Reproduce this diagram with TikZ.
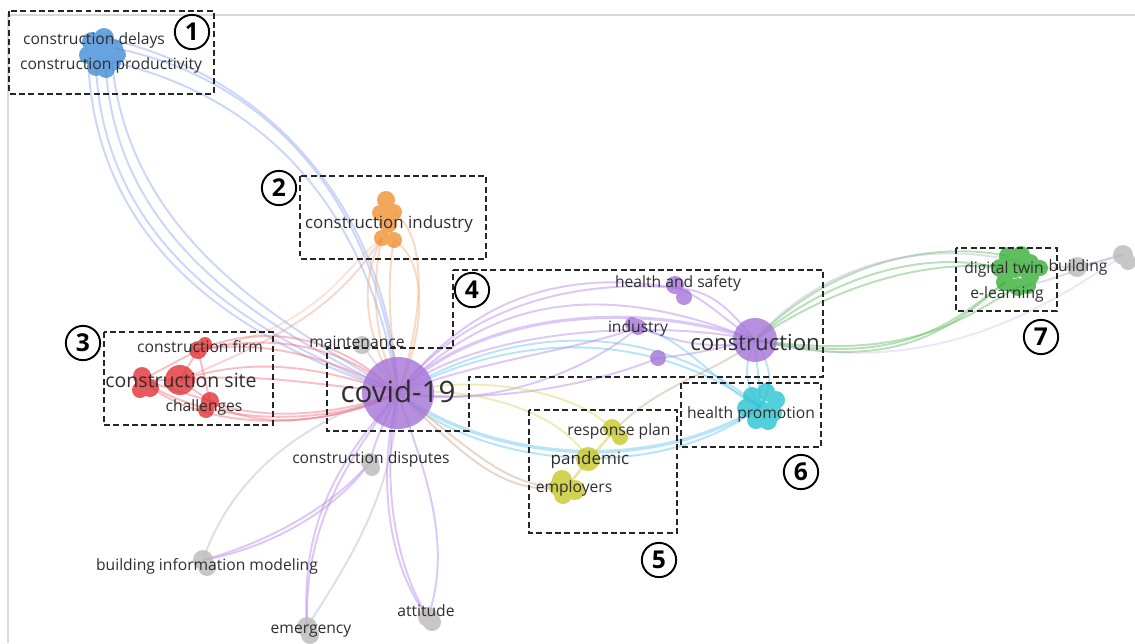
\documentclass[tikz,border=0pt]{standalone}
\usepackage{fontspec}
\setmainfont{Open Sans}
\usepackage{tikz}

\definecolor{bblue}{RGB}{65,140,215}
\definecolor{borange}{RGB}{240,145,50}
\definecolor{bred}{RGB}{225,50,55}
\definecolor{bpurple}{RGB}{165,115,215}
\definecolor{bcyan}{RGB}{40,195,210}
\definecolor{byellow}{RGB}{200,200,40}
\definecolor{bgreen}{RGB}{55,175,55}
\definecolor{bgray}{RGB}{185,185,185}
\definecolor{bluel}{RGB}{140,165,240}
\definecolor{orl}{RGB}{245,170,120}
\definecolor{redl}{RGB}{240,110,125}
\definecolor{purl}{RGB}{180,130,235}
\definecolor{cyl}{RGB}{100,195,240}
\definecolor{yell}{RGB}{215,210,100}
\definecolor{brnl}{RGB}{200,165,135}
\definecolor{grnl}{RGB}{100,185,100}
\definecolor{gryl}{RGB}{185,180,210}

\tikzset{
	lnk/.style={line width=1.1pt, draw opacity=0.45},
	bub/.style={fill=#1, fill opacity=0.8},
	kw/.style={font=\fontsize{8.9}{10}\selectfont, text=black!82, inner sep=0pt},
	box/.style={draw=black!85, line width=0.9pt, dash pattern=on 3.4pt off 1.9pt},
	num/.style={shape=circle, draw=black, line width=1.1pt, minimum size=19.5pt, inner sep=0pt, font=\fontsize{14}{14}\selectfont\bfseries}
}

\begin{document}
\begin{tikzpicture}[x=0.02cm, y=-0.02cm]
	\useasboundingbox (0,0) rectangle (1135,643);
	\draw[black!15, line width=0.6pt] (8,643) -- (8,15) -- (1135,15);
	
	% cluster positions
	\coordinate (b2) at (104,38);
	\coordinate (b3) at (114,48);
	\coordinate (b4) at (88,58);
	\coordinate (b6) at (112,62);
	\coordinate (b7) at (96,67);
	\coordinate (b8) at (106,69);
	\coordinate (o2) at (394,212);
	\coordinate (o5) at (382,238);
	\coordinate (o6) at (394,240);
	\coordinate (cs) at (180,380);
	\coordinate (cs2) at (142,380);
	\coordinate (cf) at (198,350);
	\coordinate (ch) at (210,401);
	\coordinate (mt) at (362,345);
	\coordinate (cv) at (398,393);
	\coordinate (hs) at (677,288);
	\coordinate (ind) at (638,327);
	\coordinate (pu) at (658,358);
	\coordinate (con) at (755,340);
	\coordinate (hp) at (760,407);
	\coordinate (rp) at (614,431);
	\coordinate (pd) at (588,459);
	\coordinate (emp) at (566,488);
	\coordinate (g1) at (1008,256);
	\coordinate (g4) at (1000,268);
	\coordinate (g7) at (1005,282);
	\coordinate (g8) at (1018,287);
	\coordinate (g10) at (1040,268);
	\coordinate (bd) at (1077,267);
	\coordinate (bd2) at (1123,255);
	\coordinate (cdp) at (370,462);
	\coordinate (bim) at (203,560);
	\coordinate (emg) at (307,627);
	\coordinate (att) at (428,617);
	
	% links
	\draw[lnk, bluel] (b7) .. controls (105,255) and (265,340) .. (cv);
	\draw[lnk, bluel] (b8) .. controls (118,250) and (278,333) .. (cv);
	\draw[lnk, bluel] (b6) .. controls (130,245) and (290,326) .. (cv);
	\draw[lnk, bluel] (b4) .. controls (95,258) and (255,345) .. (cv);
	\draw[lnk, bluel] (b3) .. controls (250,75) and (375,180) .. (cv);
	\draw[lnk, bluel] (b2) .. controls (245,68) and (385,185) .. (cv);
	\draw[lnk, bluel] (b6) .. controls (245,92) and (365,188) .. (cv);
	
	\draw[lnk, orl] (o5) .. controls (370,290) and (375,340) .. (cv);
	\draw[lnk, orl] (o6) .. controls (385,290) and (392,340) .. (cv);
	\draw[lnk, orl] (o5) .. controls (360,280) and (362,330) .. (cv);
	\draw[lnk, orl] (o6) .. controls (428,262) and (426,330) .. (cv);
	\draw[lnk, orl] (o2) .. controls (432,240) and (420,330) .. (cv);
	\draw[lnk, orl, draw opacity=0.3] (o5) .. controls (345,265) and (320,330) .. (cf);
	
	\draw[lnk, redl] (cf) .. controls (260,325) and (330,330) .. (cv);
	\draw[lnk, redl] (cf) .. controls (265,335) and (335,340) .. (cv);
	\draw[lnk, redl] (cf) .. controls (255,340) and (320,352) .. (cv);
	\draw[lnk, redl] (cs) .. controls (260,355) and (320,368) .. (cv);
	\draw[lnk, redl] (cs) .. controls (255,372) and (320,385) .. (cv);
	\draw[lnk, redl] (ch) .. controls (250,430) and (330,425) .. (cv);
	\draw[lnk, redl] (ch) .. controls (255,420) and (330,418) .. (cv);
	\draw[lnk, redl] (cs2) .. controls (200,432) and (320,432) .. (cv);
	\draw[lnk, redl] (cs2) .. controls (205,425) and (325,428) .. (cv);
	\draw[lnk, redl, draw opacity=0.3] (cs) .. controls (300,330) and (340,300) .. (o5);
	\draw[lnk, redl] (cs2) -- (cs) -- (cf) -- (ch) -- (cs);
	\draw[lnk, redl] (cs2) -- (cf);
	\draw[lnk, redl] (cs2) -- (ch);
	
	\draw[lnk, purl, line width=1.8pt] (cv) .. controls (480,310) and (640,300) .. (con);
	\draw[lnk, purl] (cv) .. controls (470,330) and (650,318) .. (con);
	\draw[lnk, purl] (cv) .. controls (490,298) and (600,278) .. (con);
	\draw[lnk, purl] (cv) .. controls (470,300) and (560,268) .. (hs);
	\draw[lnk, purl] (cv) .. controls (460,312) and (565,278) .. (hs);
	\draw[lnk, purl] (hs) .. controls (712,290) and (730,310) .. (con);
	\draw[lnk, purl] (hs) .. controls (705,298) and (722,318) .. (con);
	\draw[lnk, purl] (cv) .. controls (480,360) and (580,350) .. (ind);
	\draw[lnk, purl] (cv) .. controls (500,412) and (600,362) .. (ind);
	\draw[lnk, purl] (cv) .. controls (500,405) and (600,382) .. (pu);
	\draw[lnk, purl] (ind) .. controls (680,345) and (720,350) .. (con);
	\draw[lnk, purl] (pu) .. controls (690,355) and (720,348) .. (con);
	
	\draw[lnk, cyl, line width=2pt] (cv) .. controls (480,455) and (640,480) .. (hp);
	\draw[lnk, cyl] (cv) .. controls (470,462) and (650,490) .. (hp);
	\draw[lnk, cyl] (cv) .. controls (520,320) and (660,322) .. (hp);
	\draw[lnk, cyl] (cv) .. controls (520,330) and (650,330) .. (hp);
	\draw[lnk, cyl] (ind) .. controls (690,340) and (720,390) .. (hp);
	\draw[lnk, cyl] (con) .. controls (742,370) and (746,385) .. (hp);
	\draw[lnk, cyl] (con) .. controls (757,370) and (760,382) .. (hp);
	\draw[lnk, cyl] (con) .. controls (772,368) and (774,385) .. (hp);
	
	\draw[lnk, yell] (cv) .. controls (480,372) and (580,392) .. (rp);
	\draw[lnk, yell] (cv) .. controls (470,385) and (560,410) .. (pd);
	\draw[lnk, brnl] (cv) .. controls (470,448) and (505,488) .. (emp);
	\draw[lnk, brnl] (cv) .. controls (465,455) and (500,495) .. (emp);
	\draw[lnk, brnl] (rp) .. controls (660,382) and (720,372) .. (con);
	\draw[lnk, yell] (rp) -- (pd) -- (emp);
	\draw[lnk, yell] (rp) -- (emp);
	
	\draw[lnk, grnl] (con) .. controls (820,272) and (920,238) .. (g1);
	\draw[lnk, grnl] (con) .. controls (825,280) and (920,248) .. (g4);
	\draw[lnk, gryl] (con) .. controls (820,265) and (930,232) .. (g10);
	\draw[lnk, grnl] (con) .. controls (830,288) and (925,258) .. (g4);
	\draw[lnk, grnl] (con) .. controls (900,368) and (950,325) .. (g7);
	\draw[lnk, grnl] (con) .. controls (910,362) and (960,320) .. (g8);
	\draw[lnk, grnl] (con) .. controls (890,372) and (945,335) .. (g7);
	\draw[lnk, purl, draw opacity=0.22] (con) .. controls (900,375) and (1010,335) .. (bd2);
	\draw[lnk, gryl] (g10) -- (bd) -- (bd2);
	\draw[lnk, gryl] (g8) .. controls (1060,280) and (1090,262) .. (bd2);
	
	\draw[lnk, purl] (cv) .. controls (385,420) and (375,440) .. (cdp);
	\draw[lnk, purl] (cdp) .. controls (330,510) and (260,545) .. (bim);
	\draw[lnk, purl] (cdp) .. controls (334,514) and (262,550) .. (bim);
	\draw[lnk, gryl] (bim) .. controls (230,480) and (300,420) .. (cv);
	\draw[lnk, purl] (cv) .. controls (340,460) and (300,520) .. (emg);
	\draw[lnk, purl] (cv) .. controls (346,462) and (304,525) .. (emg);
	\draw[lnk, gryl] (emg) .. controls (350,560) and (395,490) .. (cv);
	\draw[lnk, purl] (cv) .. controls (375,480) and (390,570) .. (att);
	\draw[lnk, purl] (cv) .. controls (380,478) and (395,566) .. (att);
	\draw[lnk, purl] (cv) .. controls (420,460) and (455,540) .. (att);
	\draw[lnk, gryl] (cv) -- (mt);
	
	% bubbles
	\fill[bub=bblue] (92,42) circle (10) (104,38) circle (10) (114,48) circle (9)
		(88,55) circle (9) (100,52) circle (10) (112,62) circle (9)
		(96,67) circle (9) (106,69) circle (9) (118,55) circle (8);
	\fill[bub=borange] (386,200) circle (9) (394,212) circle (8) (380,213) circle (8)
		(388,224) circle (9) (382,238) circle (8) (394,240) circle (8);
	\fill[bub=bred] (cs) circle (15) (142,376) circle (9) (150,388) circle (9)
		(140,390) circle (8) (cf) circle (9) (205,344) circle (7)
		(ch) circle (9) (206,410) circle (8);
	\fill[bub=bpurple] (cv) circle (36) (con) circle (22) (675,285) circle (9)
		(684,297) circle (8) (ind) circle (8) (632,324) circle (7) (pu) circle (8);
	\fill[bub=bcyan] (752,396) circle (9) (766,392) circle (9) (776,400) circle (9)
		(746,408) circle (9) (760,410) circle (10) (773,413) circle (9)
		(756,420) circle (9) (768,421) circle (9);
	\fill[bub=byellow] (612,428) circle (9) (620,437) circle (8) (pd) circle (12)
		(562,480) circle (10) (575,490) circle (10) (563,495) circle (9) (558,487) circle (9);
	\fill[bub=bgreen] (g1) circle (9) (1021,255) circle (9) (1030,263) circle (9)
		(g4) circle (9) (1015,268) circle (10) (1030,276) circle (9)
		(g7) circle (9) (g8) circle (9) (1028,286) circle (8) (g10) circle (8);
	\fill[bub=bgray] (mt) circle (9) (bd) circle (10) (bd2) circle (10) (1128,262) circle (8)
		(cdp) circle (9) (372,468) circle (8) (bim) circle (10) (207,567) circle (9)
		(emg) circle (10) (310,635) circle (9) (att) circle (10) (432,622) circle (9);
	
	% labels
	\node[kw] (l-cd) at (94,40) {construction delays};
	\node[kw] (l-cp) at (111,65) {construction productivity};
	\node[kw, font=\fontsize{9.6}{11}\selectfont] (l-ci) at (389,224) {construction industry};
	\node[kw] (l-cf) at (200,347) {construction firm};
	\node[kw, font=\fontsize{11.1}{13}\selectfont] (l-cs) at (181,380) {construction site};
	\node[kw] (l-ch) at (204,407) {challenges};
	\node[kw] (l-mt) at (357,342) {maintenance};
	\node[kw, font=\fontsize{16.8}{19}\selectfont] (l-cv) at (398,391) {covid-19};
	\node[kw] (l-hs) at (678,283) {health and safety};
	\node[kw] (l-ind) at (638,328) {industry};
	\node[kw, font=\fontsize{12.6}{15}\selectfont] (l-con) at (755,342) {construction};
	\node[kw] (l-hp) at (751,414) {health promotion};
	\node[kw] (l-rp) at (619,431) {response plan};
	\node[kw, font=\fontsize{9.7}{11}\selectfont] (l-pd) at (590,460) {pandemic};
	\node[kw] (l-emp) at (574,488) {employers};
	\node[kw] (l-dt) at (1004,269) {digital twin};
	\node[kw] (l-bd) at (1078,267) {building};
	\node[kw] (l-el) at (1007,294) {e-learning};
	\node[kw] (l-cdp) at (371,459) {construction disputes};
	\node[kw] (l-bim) at (207,566) {building information modeling};
	\node[kw] (l-emg) at (311,631) {emergency};
	\node[kw] (l-att) at (426,611) {attitude};
	
	% cluster frames
	\draw[box] (9,11) rectangle (214,94);
	\draw[box] (300,176) rectangle (486,259);
	\draw[box] (104,332) rectangle (273,425);
	\draw[box] (453,270) -- (823,270) -- (823,377) -- (469,377) -- (469,431)
		-- (327,431) -- (327,348) -- (453,348) -- cycle;
	\draw[box] (529,410) rectangle (677,533);
	\draw[box] (681,383) rectangle (821,447);
	\draw[box] (956,248) rectangle (1057,311);
	
	\node[num] (n1) at (192,32) {1};
	\node[num] (n2) at (279,188) {2};
	\node[num] (n3) at (83,343) {3};
	\node[num] (n4) at (472,290) {4};
	\node[num] (n5) at (659,560) {5};
	\node[num] (n6) at (801,472) {6};
	\node[num] (n7) at (1041,337) {7};
	
\end{tikzpicture}
\end{document}
